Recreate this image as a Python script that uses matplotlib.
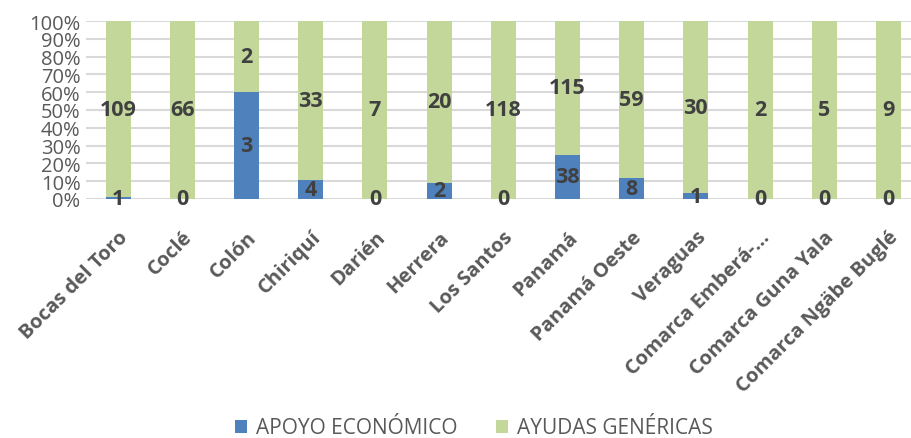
import matplotlib
matplotlib.use("Agg")
import matplotlib.pyplot as plt
import numpy as np

categories = ["Bocas del Toro", "Coclé", "Colón", "Chiriquí", "Darién", "Herrera",
              "Los Santos", "Panamá", "Panamá Oeste", "Veraguas", "Comarca Emberá-…",
              "Comarca Guna Yala", "Comarca Ngäbe Buglé"]
apoyo = [1, 0, 3, 4, 0, 2, 0, 38, 8, 1, 0, 0, 0]
ayudas = [109, 66, 2, 33, 7, 20, 118, 115, 59, 30, 2, 5, 9]
y_ticks = [0, 10, 20, 30, 40, 50, 60, 70, 80, 90, 100]
series_names = ["APOYO ECONÓMICO", "AYUDAS GENÉRICAS"]

plt.rcParams['font.family'] = ['Open Sans', 'DejaVu Sans']

a = np.array(apoyo, dtype=float)
g = np.array(ayudas, dtype=float)
tot = a + g
a_pct = a / tot * 100
g_pct = g / tot * 100

fig = plt.figure(figsize=(9.11, 4.39), dpi=100)
ax = fig.add_axes([86/911, (439-200)/439, 1 - 86/911, (200-22)/439])

x = np.arange(len(categories))
w = 0.39
b1 = ax.bar(x, a_pct, w, color="#4F81BD", label=series_names[0], zorder=3)
b2 = ax.bar(x, g_pct, w, bottom=a_pct, color="#C4D79B", label=series_names[1], zorder=3)

lab_kw = dict(label_type='center', fontsize=15.5, fontweight='bold', color='#404040')
ax.bar_label(b1, labels=[str(v) for v in apoyo], **lab_kw)
ax.bar_label(b2, labels=[str(v) for v in ayudas], **lab_kw)

ax.set_ylim(0, 100)
ax.set_xlim(-0.5, 12.35)
ax.set_yticks(y_ticks)
ax.set_yticklabels([f"{t}%" for t in y_ticks], fontsize=14.5, color='#595959')
ax.set_xticks(x)
ax.set_xticklabels(categories, rotation=45, ha='right', rotation_mode='anchor',
                   fontsize=14.5, fontweight='bold', color='#595959')
ax.tick_params(axis='both', length=0)
ax.tick_params(axis='y', pad=4)
ax.tick_params(axis='x', pad=20)
ax.grid(axis='y', color='#D9D9D9', linewidth=1.5, zorder=0)
for s in ax.spines.values():
    s.set_visible(False)

leg = fig.legend(handles=[b1, b2], labels=series_names, loc='center',
                 bbox_to_anchor=(0.52, 1 - 429/439), ncol=2, frameon=False,
                 fontsize=15, handlelength=0.6, handleheight=0.6,
                 handletextpad=0.4, columnspacing=1.85)
for t in leg.get_texts():
    t.set_color('#595959')

fig.savefig("out.png", dpi=100)
